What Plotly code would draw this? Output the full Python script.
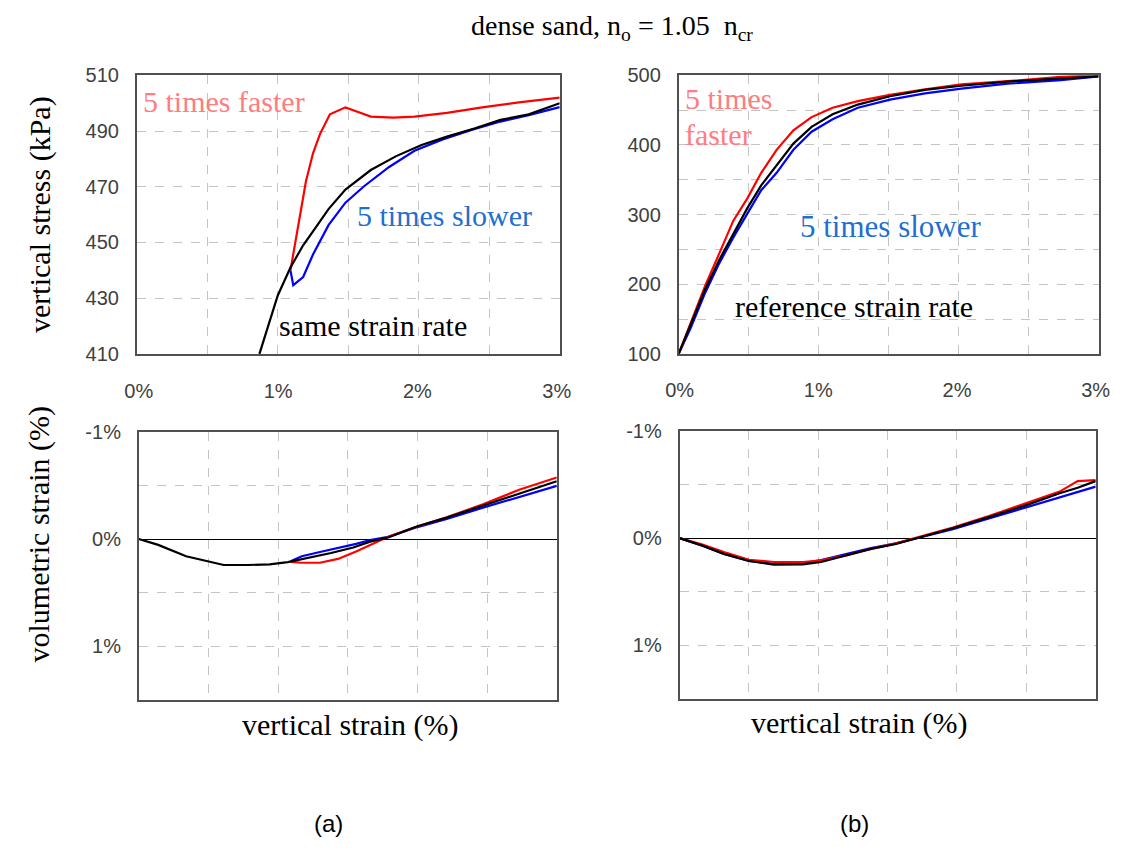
import plotly.graph_objects as go

# ---- data: vertical strain in %, vertical stress in kPa, volumetric strain in % ----
# (a) stress-strain, same strain rate / 5x faster / 5x slower after ~1.1 %
a_same_strain = [0.87, 0.92, 1.00, 1.09, 1.18, 1.25, 1.36, 1.48, 1.66, 1.84, 2.02, 2.20, 2.40, 2.58, 2.78, 3.00]
a_same_stress = [410, 418, 431, 441, 449, 454, 462, 469, 476, 481, 485, 488, 491, 494, 496, 500]
a_fast_strain = [1.09, 1.15, 1.20, 1.25, 1.30, 1.37, 1.43, 1.48, 1.56, 1.66, 1.82, 1.97, 2.20, 2.45, 2.71, 3.00]
a_fast_stress = [440, 458, 472, 482, 489, 496, 497.5, 498.5, 497, 495.2, 494.8, 495.2, 496.5, 498.5, 500.3, 502]
a_slow_strain = [1.09, 1.11, 1.18, 1.25, 1.36, 1.48, 1.61, 1.79, 1.97, 2.17, 2.38, 2.58, 2.78, 3.00]
a_slow_stress = [440, 434.7, 437.6, 445.7, 456.2, 464.3, 470.1, 477.1, 482.9, 487.0, 490.5, 493.4, 495.7, 498.6]

# (a) volumetric strain (positive = compression)
a_same_vstrain_x = [0.00, 0.14, 0.34, 0.50, 0.61, 0.78, 0.94, 1.07, 1.22, 1.38, 1.54, 1.66, 1.79, 2.00, 2.21, 2.47, 2.73, 3.00]
a_same_vstrain_y = [0.00, 0.054, 0.160, 0.206, 0.242, 0.242, 0.236, 0.215, 0.175, 0.130, 0.079, 0.024, -0.015, -0.12, -0.20, -0.31, -0.42, -0.54]
a_fast_vstrain_x = [1.09, 1.17, 1.30, 1.43, 1.56, 1.69, 1.79, 1.95, 2.21, 2.47, 2.73, 3.00]
a_fast_vstrain_y = [0.212, 0.221, 0.221, 0.185, 0.115, 0.039, -0.021, -0.097, -0.203, -0.324, -0.460, -0.575]
a_slow_vstrain_x = [1.09, 1.17, 1.30, 1.43, 1.56, 1.66, 1.79, 2.00, 2.21, 2.47, 2.73, 3.00]
a_slow_vstrain_y = [0.206, 0.160, 0.121, 0.085, 0.045, 0.009, -0.021, -0.112, -0.188, -0.293, -0.393, -0.496]

# (b) stress-strain from the start of loading
b_strain = [0.00, 0.086, 0.19, 0.29, 0.39, 0.49, 0.59, 0.70, 0.82, 0.95, 1.10, 1.28, 1.51, 1.76, 2.02, 2.35, 2.73, 3.00]
b_ref_stress = [100, 142, 193, 235, 272, 309, 342, 370, 402, 426, 444, 458, 470, 479, 485, 491, 495, 498.6]
b_fast_stress = [100, 144, 198, 244, 291, 323, 360, 393, 421, 440, 453.5, 463, 472, 480, 487, 491.6, 497.7, 500]
b_slow_stress = [100, 137, 188, 230, 267, 302, 335, 360, 393, 419, 437, 453.5, 465, 474, 481, 488, 493, 498.6]

# (b) volumetric strain
b_vstrain_x = [0.00, 0.165, 0.32, 0.50, 0.68, 0.89, 1.02, 1.20, 1.38, 1.56, 1.71, 1.97, 2.23, 2.49, 2.74, 2.87, 3.00]
b_ref_vstrain = [0.00, 0.070, 0.147, 0.214, 0.248, 0.245, 0.223, 0.162, 0.101, 0.055, 0.00, -0.092, -0.196, -0.303, -0.419, -0.47, -0.532]
b_fast_vstrain = [0.00, 0.061, 0.131, 0.202, 0.223, 0.223, 0.208, 0.162, 0.101, 0.049, -0.006, -0.098, -0.205, -0.318, -0.434, -0.532, -0.541]
b_slow_vstrain = [0.00, 0.070, 0.147, 0.214, 0.240, 0.235, 0.205, 0.147, 0.092, 0.049, 0.00, -0.083, -0.183, -0.281, -0.382, -0.43, -0.480]

x_ticks = [0, 1, 2, 3]
x_tick_text = ["0%", "1%", "2%", "3%"]
a_stress_ticks = [410, 430, 450, 470, 490, 510]
b_stress_ticks = [100, 200, 300, 400, 500]
vol_ticks = [-1, 0, 1]
vol_tick_text = ["-1%", "0%", "1%"]

W, H = 1137, 856
SERIF = "Liberation Serif, Times New Roman, serif"
SANS = "Liberation Sans, Arial, sans-serif"
RED, BLUE, BLACK = "#FF0000", "#0000FF", "#000000"
GRID = "#C4C4C4"


def fx(p):
    return p / W


def fy(p):
    return 1 - p / H


fig = go.Figure()


def add_line(x, y, color, ax):
    fig.add_trace(go.Scatter(x=x, y=y, mode="lines", line=dict(color=color, width=2.2),
                             xaxis="x" + ax, yaxis="y" + ax, showlegend=False, hoverinfo="skip"))


# stress-strain panels
add_line(a_slow_strain, a_slow_stress, BLUE, "")
add_line(a_fast_strain, a_fast_stress, RED, "")
add_line(a_same_strain, a_same_stress, BLACK, "")
add_line(b_strain, b_slow_stress, BLUE, "2")
add_line(b_strain, b_fast_stress, RED, "2")
add_line(b_strain, b_ref_stress, BLACK, "2")
# volumetric panels
add_line(a_slow_vstrain_x, a_slow_vstrain_y, BLUE, "3")
add_line(a_fast_vstrain_x, a_fast_vstrain_y, RED, "3")
add_line(a_same_vstrain_x, a_same_vstrain_y, BLACK, "3")
add_line(b_vstrain_x, b_slow_vstrain, BLUE, "4")
add_line(b_vstrain_x, b_fast_vstrain, RED, "4")
add_line(b_vstrain_x, b_ref_vstrain, BLACK, "4")

frame = dict(showline=True, mirror=True, linecolor="#505050", linewidth=1.6,
             showgrid=True, gridcolor=GRID, griddash="dash", gridwidth=1,
             zeroline=False, ticks="", tickfont=dict(family=SANS, size=20, color="#404040"))


def xaxis(dom, anchor, labels, side="bottom"):
    d = dict(frame)
    d.update(domain=dom, anchor=anchor, range=[0, 3], tickvals=x_ticks, ticktext=x_tick_text,
             showticklabels=labels, side=side, ticklabelstandoff=24,
             minor=dict(dtick=0.5, tick0=0, showgrid=True, gridcolor=GRID, griddash="dash", ticklen=0))
    return d


def yaxis(dom, anchor, rng, vals, text=None, minor=None, zero=False):
    d = dict(frame)
    d.update(domain=dom, anchor=anchor, range=rng, tickvals=vals, ticklabelstandoff=12)
    if text is not None:
        d["ticktext"] = text
    if minor is not None:
        d["minor"] = dict(dtick=minor, tick0=0, showgrid=True, gridcolor=GRID, griddash="dash", ticklen=0)
    if zero:
        d.update(zeroline=True, zerolinecolor="#000000", zerolinewidth=1.3)
    return d


top_y = [fy(352), fy(66)]
fig.update_layout(
    width=W, height=H, margin=dict(l=0, r=0, t=0, b=0),
    paper_bgcolor="white", plot_bgcolor="white",
    xaxis=xaxis([fx(126), fx(560)], "y", False),
    yaxis=yaxis(top_y, "x", [410, 510], a_stress_ticks),
    xaxis2=xaxis([fx(682), fx(1113)], "y2", False),
    yaxis2=yaxis(top_y, "x2", [100, 500], b_stress_ticks, minor=50),
    xaxis3=xaxis([fx(128), fx(557)], "y3", True, side="top"),
    yaxis3=yaxis([fy(707), fy(432)], "x3", [1.5, -1], vol_ticks, vol_tick_text, minor=0.5, zero=True),
    xaxis4=xaxis([fx(683), fx(1110)], "y4", True, side="top"),
    yaxis4=yaxis([fy(706), fy(431)], "x4", [1.5, -1], vol_ticks, vol_tick_text, minor=0.5, zero=True),
)


def label(text, x, y, size=30, color="#000000", family=SERIF, xanchor="center", angle=0):
    fig.add_annotation(text=text, x=fx(x), y=fy(y), xref="paper", yref="paper",
                       xanchor=xanchor, yanchor="middle", showarrow=False, textangle=angle,
                       font=dict(family=family, size=size, color=color))


FAST_TXT, SLOW_TXT = "#FF7C80", "#1F6FCF"
label("dense sand, n<sub>o</sub> = 1.05  n<sub>cr</sub>", 614, 17, size=28)
label("5 times faster", 130, 93, color=FAST_TXT, xanchor="left")
label("5 times slower", 350, 210, color=SLOW_TXT, xanchor="left")
label("same strain rate", 270, 323, xanchor="left")
label("5 times", 686, 90, color=FAST_TXT, xanchor="left")
label("faster", 686, 127, color=FAST_TXT, xanchor="left")
label("5 times slower", 805, 221, color=SLOW_TXT, xanchor="left", size=31)
label("reference strain rate", 738, 303, xanchor="left")
label("vertical stress (kPa)", 26, 209, angle=-90)
label("volumetric strain (%)", 26, 537, angle=-90)
label("vertical strain (%)", 345, 733)
label("vertical strain (%)", 868, 731)
label("(a)", 323, 834, size=24, family=SANS)
label("(b)", 862, 834, size=24, family=SANS)

fig.write_html("out.html")
